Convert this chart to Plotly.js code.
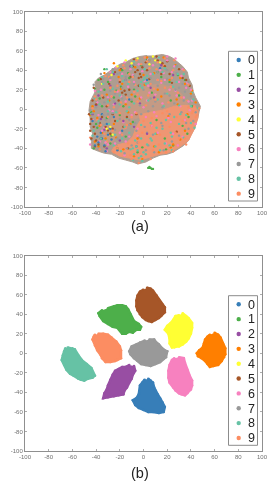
<!DOCTYPE html>
<html><head><meta charset="utf-8">
<script src="https://cdn.plot.ly/plotly-3.0.1.min.js"></script>
<style>html,body{margin:0;padding:0;background:#fff;overflow:hidden}#c{width:271px;height:493px;filter:blur(0.5px)}</style>
</head><body><div id="c"></div>
<script>
const categories=['0','1','2','3','4','5','6','7','8','9'];
const colors=['#377eb8','#4daf4a','#984ea3','#ff7f00','#ffff33','#a65628','#f781bf','#999999','#66c2a5','#fc8d62'];
const tickVals=[-100,-80,-60,-40,-20,0,20,40,60,80,100];

// Panel (a): overall cloud outline and denser regions
const cloudX=[10,16,22,25,30,33,37,38,41,42,44,46,48,47,46,44,43,40,38,34,30,25,20,14,8,2,-5,-9,-15,-21,-27,-33,-38,-44,-44,-43,-45,-45,-46,-45,-42,-40,-41,-38,-33,-29,-25,-20,-15,-9,-3,3];
const cloudY=[55,56,54,52,47,44,38,32,25,18,12,7,3,-2,-8,-14,-20,-26,-32,-37,-40,-44,-46,-47,-50,-54,-56,-54,-52,-50,-46,-45,-43,-40,-33,-25,-18,-10,-1,8,15,20,28,32,35,39,42,46,48,52,54,55];
const warmX=[-4,6,16,26,35,42,46,46,43,38,30,20,14,6,-3,-12,-20,-27,-24,-14,-9,-6,-3];
const warmY=[-6,-3,-1,3,4,3,0,-9,-20,-32,-39,-45,-46,-49,-52,-50,-48,-43,-37,-34,-28,-18,-12];
const midX=[-6,4,14,24,32,38,36,24,8,-8,-20,-30,-34,-26,-16];
const midY=[20,24,26,22,16,4,-4,-1,-4,-10,-26,-38,-30,-8,8];

// Panel (a): scattered samples per class
const a0x=[-35,-38,-32,-30,-41,-36,-27,-33,-39,-25,-18,-12,-31,-22,3,-35,-28,14,-43,-6];
const a0y=[-30,-34,-43,-26,-37,-24,-31,-37,-28,-8,-22,10,-15,-42,30,-5,-20,42,-12,-38];
const a1x=[-30,-25,-12,-8,-20,-35,-40,-28,-2,12,22,-15,-42,-33,5,6,7,5,4,8,30,-18,-5,18,38,35,-22,-10,-38];
const a1y=[28,12,32,20,-6,3,-15,-35,45,38,28,-28,-40,20,-60,-60,-61,-59,-60,-61,14,40,-44,-30,-8,30,-40,8,30];
const a2x=[-24,-15,-36,-28,-8,6,-40,-20,-33,-11,15,25,-3,-43,-25,-31,9,-17,3,-38];
const a2y=[6,30,-10,24,-18,22,4,-32,-21,44,45,35,6,-5,36,-40,12,-12,-25,14];
const a3x=[-20,-10,-32,5,22,35,-5,12,28,-25,-15,-38,18,-42,0,31,-28,9,-8,25,40,-18];
const a3y=[40,15,-30,50,30,-22,-30,20,10,-15,5,-38,44,-2,35,32,22,-38,-48,-36,16,26];
const a4x=[-28,-30,-26,-31,-15,-5,5,10,14,8,-10,-22,-35,-27];
const a4y=[-18,-23,-26,-20,50,52,46,50,48,54,47,44,26,35];
const a5x=[-5,-3,-1,-7,-9,-2,-18,-15,-16,-44,-45,-42,-46,-43,-30,-28,-26,-32,-40,-38,-36,-44,-41,12,16,18,20,-4,3,-12,-20,-6,-14,33,36,22,-24,-35,-40,-34];
const a5y=[40,36,43,38,44,33,17,15,19,-10,-15,-18,-5,9,-22,-25,-20,-18,-32,-36,-30,-30,-25,50,47,44,49,32,40,20,28,-5,-8,32,30,36,-12,-8,5,12];
const a6x=[-30,-24,-12,-5,8,14,20,26,32,36,28,12,4,-8,-18,-28,-36,-15,-2,10,22,30,-32,-20,-10,2,16,24,34,-26,-35,6,18,-4,-16,27,38,-38,-30,12,-22,-8,0,40];
const a6y=[-36,-35,-28,-20,45,40,50,44,34,22,14,30,24,28,36,30,20,8,12,15,20,28,-34,-24,-6,-8,6,38,12,-2,-22,36,30,46,48,52,8,-6,12,-24,18,18,2,20];
const a7x=[-35,-28,-22,-15,-8,0,6,12,-30,-24,-18,-10,-3,4,10,16,22,30,-40,-34,-26,-20,-12,-6,1,8,15,-38,-30,-22,-14,-5,2,20,28,35,-43,-36,42,38,-16,-25,-33,-8,5,18,26,33];
const a7y=[28,32,36,30,26,20,32,38,10,16,22,10,4,-2,8,2,14,22,2,-6,-4,-10,-16,-22,-18,-26,-14,-14,-24,-30,-40,-34,-42,40,44,18,-4,36,-12,-20,42,8,-16,46,50,16,6,26];
const a8x=[-2,0,2,-3,1,4,-1,3,-5,-8,-4,0,-6,-2,-9,3,6,10,14,18,24,30,36,40,42,-12,-16,-22,-30,-38,-42,-34,-26,-18,-10,12,20,28,34,26,16,6,-8,-20,-30,-38,-14,8,18,30,-24,-36,-12,-2];
const a8y=[28,30,26,24,32,27,22,34,-42,-46,-50,-44,-38,-48,-40,-36,-30,-38,-42,-35,-28,-15,-6,-14,10,-24,-18,-12,8,18,-22,26,38,34,44,10,16,28,36,-8,-20,-14,6,14,-2,-12,-2,36,42,4,-26,-30,2,-30];
const a9x=[-25,-20,-14,-8,-22,-12,-2,5,12,18,25,32,38,42,36,28,20,10,0,-6,14,22,30,8,-4,-10,-18,-30,-35,-28,-20,-12,-5,2,-30,-22,-36,-24,-16,-6,6,-14,12,26,38,44,18,-26,-40,-32,4,16,34,24];
const a9y=[2,-4,12,18,24,36,46,42,30,22,40,12,25,-2,-36,-8,-2,10,-12,-4,-26,-18,-30,-42,-34,-8,-26,-8,14,22,30,28,8,4,4,-40,-16,18,42,50,26,-16,48,50,2,-8,52,-22,10,34,14,-4,40,32];

// Panel (a): further samples of the busiest classes, drawn beneath the others
const e1x=[-44,-37,-31,-23,-17,-9,-1,7,15,23,33,41,-41,-27,-13,3,19,37,-19,-33,11,29,-7,-39,25];
const e1y=[-3,11,-9,19,3,-13,-39,17,33,9,-17,3,21,-27,37,51,-41,-25,23,41,-11,35,13,-19,-37];
const e3x=[-43,-37,-29,-21,-13,-7,1,9,17,27,35,41,-39,-31,-23,-11,-3,11,21,31,-45,-33,-17,-1,13,29,44,-41,-25,7,23,37,-19,3,-35,15];
const e3y=[3,-17,9,33,-3,43,25,37,53,45,26,19,-9,15,-29,-15,11,-25,-7,-31,-6,37,-41,-51,-44,5,7,-33,47,-17,-39,-5,21,53,-24,13];
const e5x=[-42,-37,-31,-24,-17,-11,-4,5,11,24,30,39,-33,-19,-8,-26,-41,-36,2,15,-21,-13,28,-45,-29];
const e5y=[22,-14,3,38,-18,33,24,31,54,27,41,24,-38,41,51,-5,-38,31,48,36,9,-40,-23,-22,26];
const e6x=[-43,-39,-33,-27,-21,-15,-9,-3,3,9,15,21,27,33,39,44,-41,-35,-29,-23,-17,-11,-5,1,7,13,19,25,31,37,-37,-31,-25,-19,-13,-7,-1,5,11,17,23,29,35,41,-45,-28,-16,4,20,33];
const e6y=[-11,7,-19,13,27,-33,35,-45,9,-3,27,-9,19,41,-1,-15,19,33,-1,43,-13,41,-27,29,-17,53,-35,-25,3,27,-33,-43,5,13,23,-3,39,17,-7,37,-13,-37,-11,9,-36,38,-47,51,54,-28];
const e7x=[-44,-40,-36,-32,-28,-24,-20,-16,-12,-8,-4,0,4,8,12,16,20,24,28,32,36,40,-42,-38,-34,-30,-26,-18,-10,-2,6,14,22,30,38,44,-41,-33,-23,-15,-7,9,19,27,-45,-37,-21,3,17,34];
const e7y=[-31,9,-27,-11,19,-21,37,-45,-11,34,-29,44,-37,3,24,-17,31,-33,37,-3,-14,13,25,-41,31,-5,41,11,-37,-5,11,46,-5,-27,28,-3,-17,7,-37,33,-14,-44,41,20,-1,19,27,-24,-42,9];
const e8x=[-44,-38,-32,-26,-20,-14,-8,-2,4,10,16,22,28,34,40,46,-41,-35,-29,-23,-17,-11,-5,1,7,13,19,25,31,37,43,-43,-37,-31,-25,-19,-13,-7,-1,5,11,17,23,29,35,41,-18,-9,2,24];
const e8y=[-5,-37,-31,21,5,-9,49,-16,9,-25,38,-37,44,-29,3,1,11,33,-15,-3,29,-41,19,41,-32,53,-11,23,-5,9,-19,-27,5,41,-37,-43,26,-32,-53,51,-19,3,-24,36,-21,17,-30,-52,-46,-42];
const e9x=[-45,-41,-37,-33,-29,-25,-21,-17,-13,-9,-5,-1,3,7,11,15,19,23,27,31,35,39,43,47,-43,-39,-35,-31,-27,-23,-19,-15,-11,-7,-3,1,5,9,13,17,21,25,29,33,37,41,45,-10,-4,6];
const e9y=[-29,13,-41,-25,33,-44,19,45,-35,33,15,-24,49,-9,41,29,-44,23,-24,33,-30,-22,3,1,1,-11,27,-33,13,-38,7,-19,-47,25,-45,53,-29,21,-36,45,7,-43,17,-12,9,-4,-6,-51,-55,-51];

// Panel (b): cluster outlines
const b0x=[4,6,8,9,10,12,14,16,18,17,13,8,4,0,-4,-7,-9,-6,-4,-3,-1,1];
const b0y=[-26,-28,-30,-35,-38,-42,-46,-50,-55,-60,-61,-60,-60,-58,-56,-53,-48,-46,-42,-33,-30,-27];
const b1x=[-30,-25,-22,-18,-15,-13,-11,-8,-4,-2,-3,-6,-9,-12,-15,-18,-22,-26,-30,-34,-37,-38,-35];
const b1y=[46,48,49,49,48,45,40,33,30,27,24,24,21,22,20,20,26,27,30,33,38,41,44];
const b2x=[-8,-7,-9,-10,-12,-14,-16,-17,-21,-25,-30,-34,-33,-31,-30,-28,-26,-24,-21,-18,-15,-12];
const b2y=[-13,-18,-22,-26,-30,-35,-38,-42,-43,-44,-45,-46,-41,-37,-33,-27,-22,-18,-16,-14,-14,-12];
const b3x=[60,63,65,67,69,69,68,66,63,59,56,54,52,49,46,45,47,50,51,52,54,56];
const b3y=[21,19,16,10,5,-1,-4,-8,-12,-13,-14,-11,-8,-5,-3,0,3,6,10,14,17,19];
const b4x=[33,36,38,41,41,40,38,36,33,30,26,24,22,22,21,18,20,23,25,27,30];
const b4y=[41,38,36,31,26,20,15,12,9,7,6,6,10,15,20,24,28,31,34,38,39];
const b5x=[3,6,8,11,13,16,18,18,15,13,10,7,4,2,-1,-3,-5,-6,-6,-5,-3,0];
const b5y=[67,66,64,59,55,50,47,42,38,36,34,32,33,34,37,40,44,48,54,59,63,65];
const b6x=[30,34,35,37,39,41,41,40,37,35,32,30,27,25,22,21,21,22,24,26];
const b6y=[-4,-5,-10,-17,-23,-28,-33,-37,-41,-43,-42,-41,-38,-35,-30,-25,-18,-12,-7,-5];
const b7x=[5,9,10,13,15,18,20,19,17,14,10,6,2,-2,-5,-8,-11,-12,-10,-6,-3,1];
const b7y=[14,14,12,9,6,3,2,-4,-6,-9,-11,-13,-12,-11,-8,-5,-1,2,7,9,11,13];
const b8x=[-64,-60,-58,-55,-52,-48,-44,-41,-43,-47,-50,-53,-55,-59,-62,-65,-67,-69,-68,-67,-66];
const b8y=[6,5,4,-2,-7,-11,-15,-23,-25,-26,-28,-27,-26,-23,-21,-17,-12,-7,-2,2,5];
const b9x=[-38,-34,-30,-27,-23,-20,-19,-19,-22,-24,-28,-32,-35,-36,-39,-41,-43,-42,-41];
const b9y=[20,20,19,16,12,7,3,-5,-7,-8,-9,-9,-5,-2,3,8,14,17,19];

const aX=[a0x,a1x,a2x,a3x,a4x,a5x,a6x,a7x,a8x,a9x];
const aY=[a0y,a1y,a2y,a3y,a4y,a5y,a6y,a7y,a8y,a9y];
const eX=[null,e1x,null,e3x,null,e5x,e6x,e7x,e8x,e9x];
const eY=[null,e1y,null,e3y,null,e5y,e6y,e7y,e8y,e9y];
const bX=[b0x,b1x,b2x,b3x,b4x,b5x,b6x,b7x,b8x,b9x];
const bY=[b0y,b1y,b2y,b3y,b4y,b5y,b6y,b7y,b8y,b9y];

const W=271,H=493,L=25,R=262;
const panels=[{top:11.5,bot:207,boxTop:51.3,boxBot:201,row0:60,step:14.85,label:'(a)',labelY:225.5},
              {top:255.5,bot:451,boxTop:295.7,boxBot:445.3,row0:304.3,step:14.85,label:'(b)',labelY:473}];
const px=v=>v/W, py=v=>1-v/H;

const traces=[];
const poly=(x,y,col)=>({x:x,y:y,xaxis:'x',yaxis:'y',mode:'lines',fill:'toself',fillcolor:col,line:{color:col,width:1},hoverinfo:'skip'});
traces.push(poly(cloudX,cloudY,'#ae9d90'));
traces.push(poly(midX,midY,'#c59a84'));
traces.push(poly(warmX,warmY,'#ee9673'));
categories.forEach((c,i)=>{ if(eX[i]) traces.push({x:eX[i],y:eY[i],xaxis:'x',yaxis:'y',mode:'markers',marker:{color:colors[i],size:2.4,line:{width:0}}}); });
categories.forEach((c,i)=>traces.push({x:aX[i],y:aY[i],name:c,xaxis:'x',yaxis:'y',mode:'markers',marker:{color:colors[i],size:2.4,line:{width:0}}}));
categories.forEach((c,i)=>traces.push({x:bX[i],y:bY[i],name:c,xaxis:'x2',yaxis:'y2',mode:'lines+markers',fill:'toself',fillcolor:colors[i],line:{color:colors[i],width:2.5},marker:{color:colors[i],size:2.5}}));

const axis=(dom,anchor)=>({domain:dom,anchor:anchor,range:[-100,100],tickvals:tickVals,ticktext:tickVals.map(String),
  ticks:'inside',ticklen:2,tickwidth:0.7,tickcolor:'#8a8a8a',showline:true,linecolor:'#8f8f8f',linewidth:1,mirror:'ticks',
  showgrid:false,zeroline:false,tickfont:{family:'Liberation Sans, Arial, sans-serif',size:6,color:'#707070'},automargin:false,tickangle:0});

const shapes=[],annotations=[];
panels.forEach(p=>{
  shapes.push({type:'rect',xref:'paper',yref:'paper',x0:px(228.5),x1:px(257.5),y0:py(p.boxBot),y1:py(p.boxTop),fillcolor:'#fff',line:{color:'#8c8c8c',width:1},layer:'above'});
  categories.forEach((c,i)=>{
    const yy=p.row0+i*p.step;
    shapes.push({type:'circle',xref:'paper',yref:'paper',x0:px(236.5),x1:px(240.9),y0:py(yy+2.2),y1:py(yy-2.2),fillcolor:colors[i],line:{width:0},layer:'above'});
    annotations.push({xref:'paper',yref:'paper',x:px(251.7),y:py(yy+0.3),text:c,showarrow:false,xanchor:'center',yanchor:'middle',font:{family:'Liberation Sans, Arial, sans-serif',size:12.5,color:'#222'}});
  });
  annotations.push({xref:'paper',yref:'paper',x:px(140),y:py(p.labelY),text:p.label,showarrow:false,xanchor:'center',yanchor:'middle',font:{family:'Liberation Sans, Arial, sans-serif',size:14.5,color:'#222'}});
});

Plotly.newPlot('c',traces,{
  width:W,height:H,margin:{l:0,r:0,t:0,b:0},paper_bgcolor:'#fff',plot_bgcolor:'#fff',showlegend:false,
  xaxis:axis([px(L),px(R)],'y'),yaxis:axis([py(panels[0].bot),py(panels[0].top)],'x'),
  xaxis2:axis([px(L),px(R)],'y2'),yaxis2:axis([py(panels[1].bot),py(panels[1].top)],'x2'),
  shapes:shapes,annotations:annotations
},{staticPlot:true,displayModeBar:false});
</script></body></html>
